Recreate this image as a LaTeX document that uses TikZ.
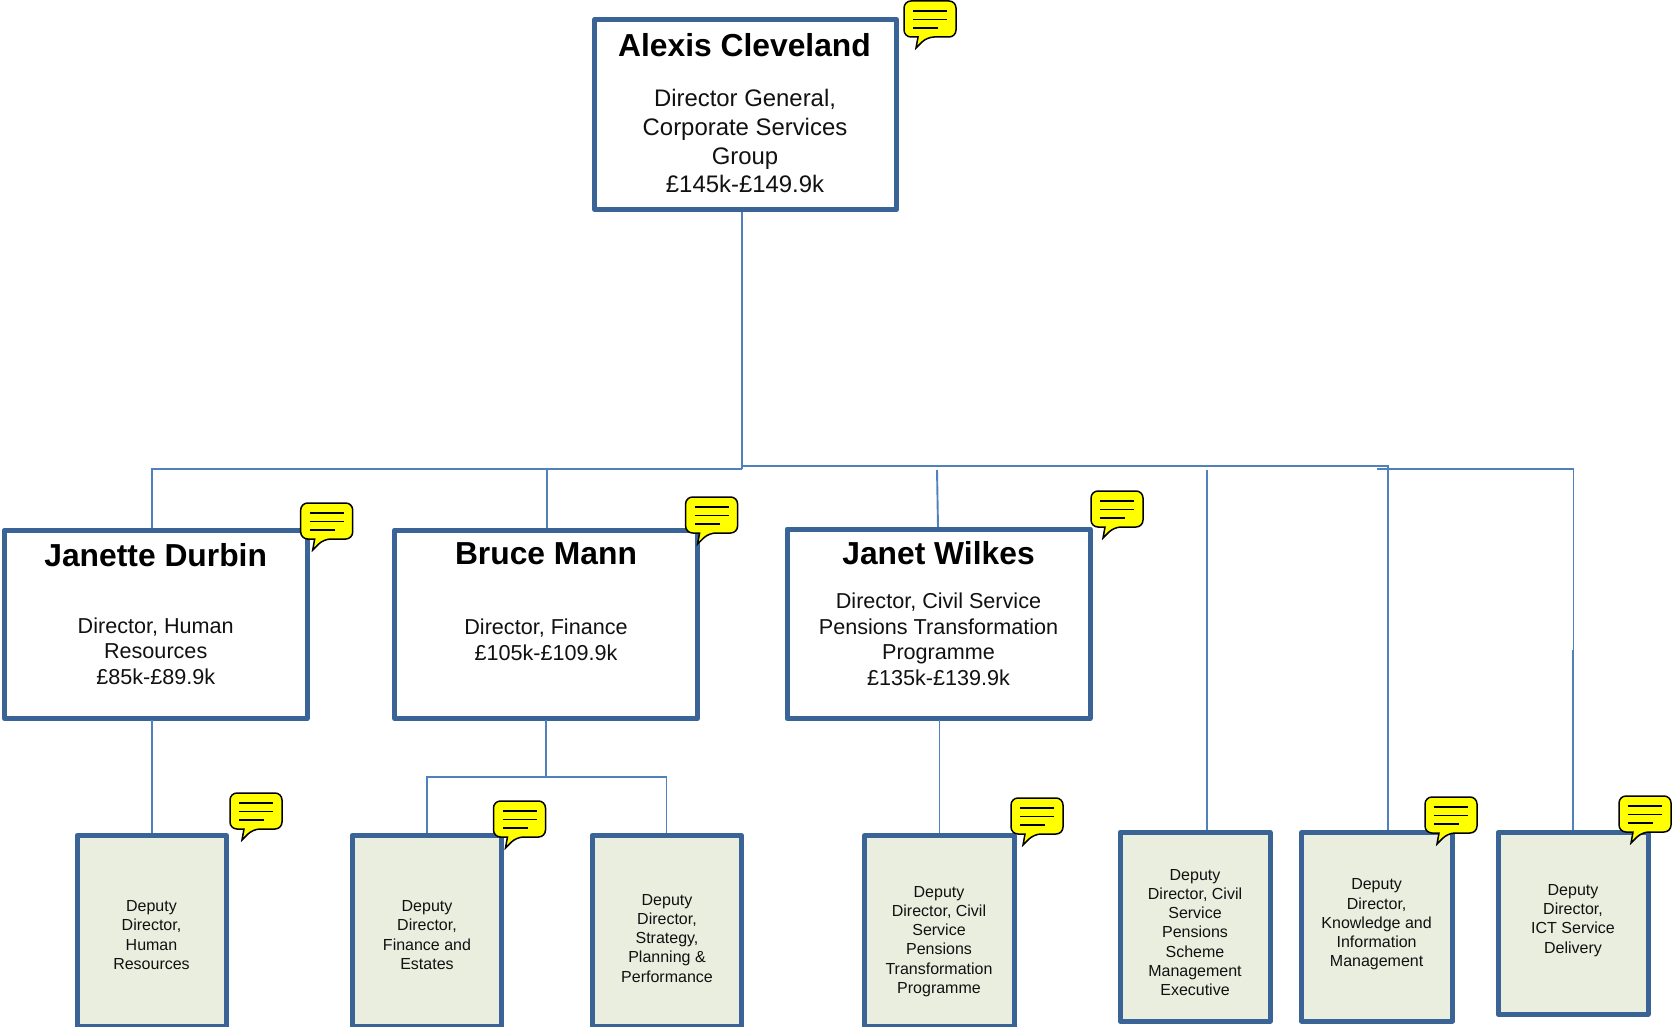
\documentclass[tikz,border=0pt]{standalone}
\usepackage{fontspec}
\setmainfont{Liberation Sans}
\definecolor{boxline}{HTML}{3A6496}
\definecolor{conn}{HTML}{4F81BD}
\definecolor{boxfill}{HTML}{EAEEDF}
\definecolor{ink}{HTML}{111111}
\definecolor{notefill}{HTML}{FFFF00}
\tikzset{
  x=1pt,y=-1pt,
  seniorbox/.style={draw=boxline,line width=5pt,fill=white,inner sep=0pt,rectangle,line join=round},
  deputybox/.style={draw=boxline,line width=5pt,fill=boxfill,inner sep=0pt,rectangle,line join=round},
  nametext/.style={font=\bfseries\fontsize{31.8pt}{36pt}\selectfont,text=black,inner sep=0pt},
  roletext/.style={font=\fontsize{21.6pt}{25.7pt}\selectfont,text=ink,align=center,inner sep=0pt},
  toptext/.style={font=\fontsize{23.9pt}{28.7pt}\selectfont,text=ink,align=center,inner sep=0pt},
  deputytext/.style={font=\fontsize{16pt}{19.25pt}\selectfont,text=ink,align=center,inner sep=0pt},
  link/.style={draw=conn,line width=1.9pt},
  note/.pic={
    \draw[fill=notefill,draw=black,line width=1.5pt]
      (26,0) [rounded corners=7pt] -- (52,0) -- (52,36) -- (23,36)
      [sharp corners] -- (12,47) -- (14,36)
      [rounded corners=7pt] -- (0,36) -- (0,0) -- cycle;
    \draw[black,line width=1.5pt] (9,10) -- (43,10) (9,18.7) -- (43,18.7) (9,27) -- (34,27);
  }
}
\newcommand{\boxat}[6]{% style,name,x1,y1,x2,y2
  \node[#1,minimum width=#5pt-#3pt,minimum height=#6pt-#4pt] (#2) at ({(#3+#5)/2},{(#4+#6)/2}) {};
}
\begin{document}
\begin{tikzpicture}
\useasboundingbox (0,0) rectangle (1672,1027);
\clip (0,0) rectangle (1672,1027);
% boxes
\boxat{seniorbox}{top}{594.5}{19.5}{896.5}{209.5}
\boxat{seniorbox}{jd}{4.5}{530}{307}{718.5}
\boxat{seniorbox}{bm}{394.5}{530}{697.5}{718.5}
\boxat{seniorbox}{jw}{787}{529}{1090}{718.5}
\boxat{deputybox}{da}{77}{835.5}{226.5}{1026}
\boxat{deputybox}{db}{352}{835.5}{501.5}{1026}
\boxat{deputybox}{dc}{592}{835.5}{741.5}{1026}
\boxat{deputybox}{dd}{864.5}{835.5}{1014}{1026}
\boxat{deputybox}{de}{1120}{832.5}{1270}{1021}
\boxat{deputybox}{df}{1301.5}{832.5}{1452.5}{1021}
\boxat{deputybox}{dg}{1498}{832.5}{1648}{1014}
% junctions
\coordinate (jL) at (742,469);
\coordinate (jR) at (742,466);
\coordinate (jJD) at (152,469);
\coordinate (jBM) at (547,469);
\coordinate (jJW) at (937,470);
\coordinate (jE) at (1207,470);
\coordinate (jF) at (1388,466);
\coordinate (jF2) at (1377,468.6);
\coordinate (jG) at (1573.5,468.6);
\coordinate (jGk) at (1573.5,650);
\coordinate (jGk2) at (1573,650);
\coordinate (jBM2) at (546,777);
\coordinate (jBa) at (427,777);
\coordinate (jBc) at (666.5,777);
% connectors
\draw[link] (top.south -| jL) -- (jL);
\draw[link] (jL) -- (jJD) -- (jJD |- jd.north);
\draw[link] (jBM) -- (jBM |- bm.north);
\draw[link] (jR) -- (jF) -- (jF |- df.north);
\draw[link] (jJW) -- (938,527);
\draw[link] (jE) -- (jE |- de.north);
\draw[link] (jF2) -- (jG) -- (jGk) (jGk2) -- (jGk2 |- dg.north);
\draw[link] (152,720) -- (152,833);
\draw[link] (939.5,720) -- (939.5,833);
\draw[link] (546,720) -- (jBM2);
\draw[link] (jBa |- db.north) -- (jBa) -- (jBc) -- (jBc |- dc.north);
% texts
\node[nametext] (t0) at (744.5,45) {Alexis Cleveland};
\node[toptext] (t0b) at (745,141.3) {Director General,\\Corporate Services\\Group\\£145k-£149.9k};
\node[nametext] (t1) at (155.7,555) {Janette Durbin};
\node[roletext] (t1b) at (155.7,651) {Director, Human\\Resources\\£85k-£89.9k};
\node[nametext] (t2) at (546,554) {Bruce Mann};
\node[roletext] (t2b) at (546,640) {Director, Finance\\£105k-£109.9k};
\node[nametext] (t3) at (938.5,553) {Janet Wilkes};
\node[roletext] (t3b) at (938.5,639.3) {Director, Civil Service\\Pensions Transformation\\Programme\\£135k-£139.9k};
\node[deputytext] (ta) at (151.5,935) {Deputy\\Director,\\Human\\Resources};
\node[deputytext] (tb) at (427,935) {Deputy\\Director,\\Finance and\\Estates};
\node[deputytext] (tc) at (667,938.3) {Deputy\\Director,\\Strategy,\\Planning \&\\Performance};
\node[deputytext] (td) at (939,941.4) {Deputy\\Director, Civil\\Service\\Pensions\\Transformation\\Programme};
\node[deputytext] (te) at (1195,932.5) {Deputy\\Director, Civil\\Service\\Pensions\\Scheme\\Management\\Executive};
\node[deputytext] (tf) at (1376.6,924.4) {Deputy\\Director,\\Knowledge and\\Information\\Management};
\node[deputytext] (tg) at (1573,920.5) {Deputy\\Director,\\ICT Service\\Delivery};
% speech bubbles
\pic (n0) at (904,1) {note};
\pic (n1) at (300.7,503) {note};
\pic (n2) at (685.6,497) {note};
\pic (n3) at (1091,491) {note};
\pic (n4) at (230,793) {note};
\pic (n5) at (493.5,801) {note};
\pic (n6) at (1011,798) {note};
\pic (n7) at (1425,797) {note};
\pic (n8) at (1619,796) {note};
\end{tikzpicture}
\end{document}
